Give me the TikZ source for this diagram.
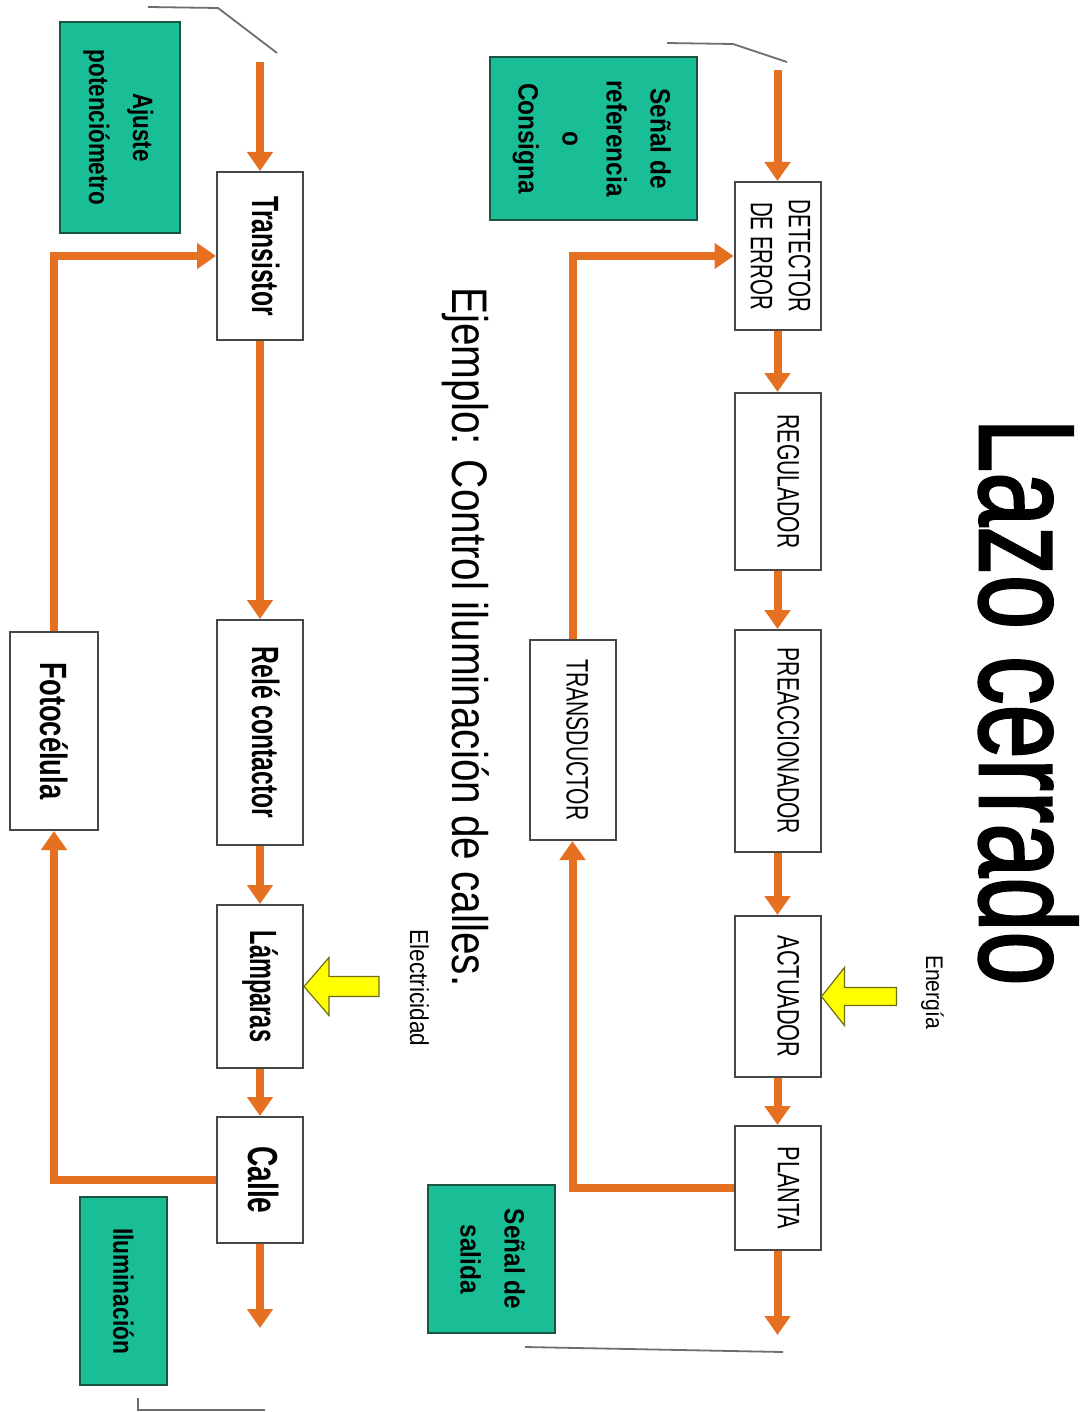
\documentclass[tikz,border=0pt]{standalone}
\usepackage{fontspec}
\setmainfont{Liberation Sans}
\newfontfamily\titlefont[FakeBold=2]{Liberation Sans}
\usetikzlibrary{arrows.meta}
\definecolor{flowc}{RGB}{230,112,34}
\definecolor{boxg}{RGB}{26,190,150}
\definecolor{boxgd}{RGB}{25,85,65}
\definecolor{edgeg}{RGB}{70,70,70}
\definecolor{thinc}{RGB}{110,110,110}
\definecolor{yel}{RGB}{255,255,0}
\definecolor{yeld}{RGB}{110,110,20}
\newcommand{\vtxt}[2]{\rotatebox{-90}{\scalebox{#1}[1]{#2}}}
\newcommand{\vtxs}[3]{\rotatebox{-90}{\scalebox{#2}[1]{\rule[-#1]{0pt}{0pt}#3}}}
\begin{document}
\begin{tikzpicture}[x=1pt,y=-1pt,
 blk/.style={draw=edgeg, line width=2pt, fill=white, inner sep=0pt, minimum width=86pt},
 capsbox/.style={blk, font=\fontsize{31}{38}\selectfont},
 boldbox/.style={blk, font=\fontsize{38}{44}\selectfont\bfseries},
 greenbox/.style={draw=boxgd, line width=2pt, fill=boxg, inner sep=0pt, font=\fontsize{28}{44}\selectfont\bfseries},
 flow/.style={draw=flowc, line width=8pt, -{Triangle[length=19pt,width=25pt]}},
 guide/.style={draw=thinc, line width=1.8pt},
 yarrow/.style={draw=yeld, line width=1.2pt, fill=yel, line join=miter},
 vlabel/.style={rotate=-90, anchor=base, inner sep=0pt}]
\useasboundingbox (0,0) rectangle (1084,1412);
\fill[white] (0,0) rectangle (1084,1412);

% titles
\node[vlabel, font=\titlefont\fontsize{135}{140}\selectfont] (title) at (980,702) {\scalebox{0.72}[1]{Lazo cerrado}};
\node[vlabel, font=\fontsize{50}{60}\selectfont] (sub) at (452,637) {\scalebox{0.81}[1]{Ejemplo: Control iluminación de calles.}};
\node[vlabel, font=\fontsize{24}{28}\selectfont] (energia) at (926,992) {\scalebox{0.88}[1]{Energía}};
\node[vlabel, font=\fontsize{26}{30}\selectfont] (elec) at (410,988) {\scalebox{0.87}[1]{Electricidad}};

% right chain
\node[capsbox, minimum height=148pt] (det) at (777.5,256) {\vtxt{0.66}{\begin{tabular}{@{}c@{}}DETECTOR\\DE ERROR\end{tabular}}};
\node[capsbox, minimum height=177pt] (reg) at (777.5,481.5) {\vtxs{22pt}{0.68}{REGULADOR}};
\node[capsbox, minimum height=222pt] (pre) at (777.5,741) {\vtxs{22pt}{0.68}{PREACCIONADOR}};
\node[capsbox, minimum height=161pt] (act) at (777.5,996.5) {\vtxs{22pt}{0.7}{ACTUADOR}};
\node[capsbox, minimum height=124pt] (pla) at (777.5,1188) {\vtxs{22pt}{0.7}{PLANTA}};
\node[capsbox, minimum height=200pt] (tra) at (572.5,740) {\vtxs{10pt}{0.68}{TRANSDUCTOR}};
\node[greenbox, minimum width=207pt, minimum height=163pt] (sref) at (593.5,138.5) {\vtxt{0.87}{\begin{tabular}{@{}c@{}}Señal de\\referencia\\o\\Consigna\end{tabular}}};
\node[greenbox, minimum width=127pt, minimum height=148pt] (ssal) at (491.5,1259) {\vtxt{0.87}{\begin{tabular}{@{}c@{}}Señal de\\salida\end{tabular}}};

% left chain
\node[boldbox, minimum height=168pt] (trn) at (260,256) {\vtxs{12pt}{0.65}{Transistor}};
\node[boldbox, minimum height=225pt] (rel) at (260,732.5) {\vtxs{12pt}{0.65}{Relé contactor}};
\node[boldbox, minimum height=163pt] (lam) at (260,986.5) {\vtxs{6pt}{0.62}{Lámparas}};
\node[boldbox, minimum height=126pt, font=\fontsize{42}{46}\selectfont\bfseries] (cal) at (260,1180) {\vtxs{8pt}{0.67}{Calle}};
\node[boldbox, minimum width=88pt, minimum height=198pt] (fot) at (54,731) {\vtxt{0.72}{Fotocélula}};
\node[greenbox, minimum width=120pt, minimum height=211pt] (ajs) at (120,127.5) {\vtxt{0.8}{\begin{tabular}{@{}c@{}}Ajuste\\potenciómetro\end{tabular}}};
\node[greenbox, minimum width=87pt, minimum height=188pt] (ilu) at (123.5,1291) {\vtxt{0.81}{Iluminación}};

% free ends
\coordinate (rin) at (777.5,70);
\coordinate (rout) at (777.5,1335);
\coordinate (lin) at (260,62);
\coordinate (lout) at (260,1328);

% right flows
\draw[flow] (rin) -- (det.north);
\draw[flow] (det.south) -- (reg.north);
\draw[flow] (reg.south) -- (pre.north);
\draw[flow] (pre.south) -- (act.north);
\draw[flow] (act.south) -- (pla.north);
\draw[flow] (pla.south) -- (rout);
\draw[flow] (pla.west) -| (tra.south);
\draw[flow] (tra.north) |- (det.west);

% left flows
\draw[flow] (lin) -- (trn.north);
\draw[flow] (trn.south) -- (rel.north);
\draw[flow] (rel.south) -- (lam.north);
\draw[flow] (lam.south) -- (cal.north);
\draw[flow] (cal.south) -- (lout);
\draw[flow] (cal.west) -| (fot.south);
\draw[flow] (fot.north) |- (trn.west);

% energy inputs
\draw[yarrow] (act.east) -- ++(23,-29) -- ++(0,20) -- ++(52,0) -- ++(0,18) -- ++(-52,0) -- ++(0,20) -- cycle;
\draw[yarrow] (lam.east) -- ++(25,-29) -- ++(0,19) -- ++(50,0) -- ++(0,20) -- ++(-50,0) -- ++(0,19) -- cycle;

% guide brackets
\coordinate (g1a) at (667,43); \coordinate (g1b) at (733,44); \coordinate (g1c) at (787,62);
\draw[guide] (g1a) -- (g1b) -- (g1c);
\coordinate (g2a) at (148,7); \coordinate (g2b) at (218,8); \coordinate (g2c) at (277,53);
\draw[guide] (g2a) -- (g2b) -- (g2c);
\coordinate (g3a) at (525,1347); \coordinate (g3b) at (783,1352);
\draw[guide] (g3a) -- (g3b);
\coordinate (g4a) at (138,1398); \coordinate (g4b) at (138,1410); \coordinate (g4c) at (265,1410);
\draw[guide] (g4a) -- (g4b) -- (g4c);
\end{tikzpicture}
\end{document}
